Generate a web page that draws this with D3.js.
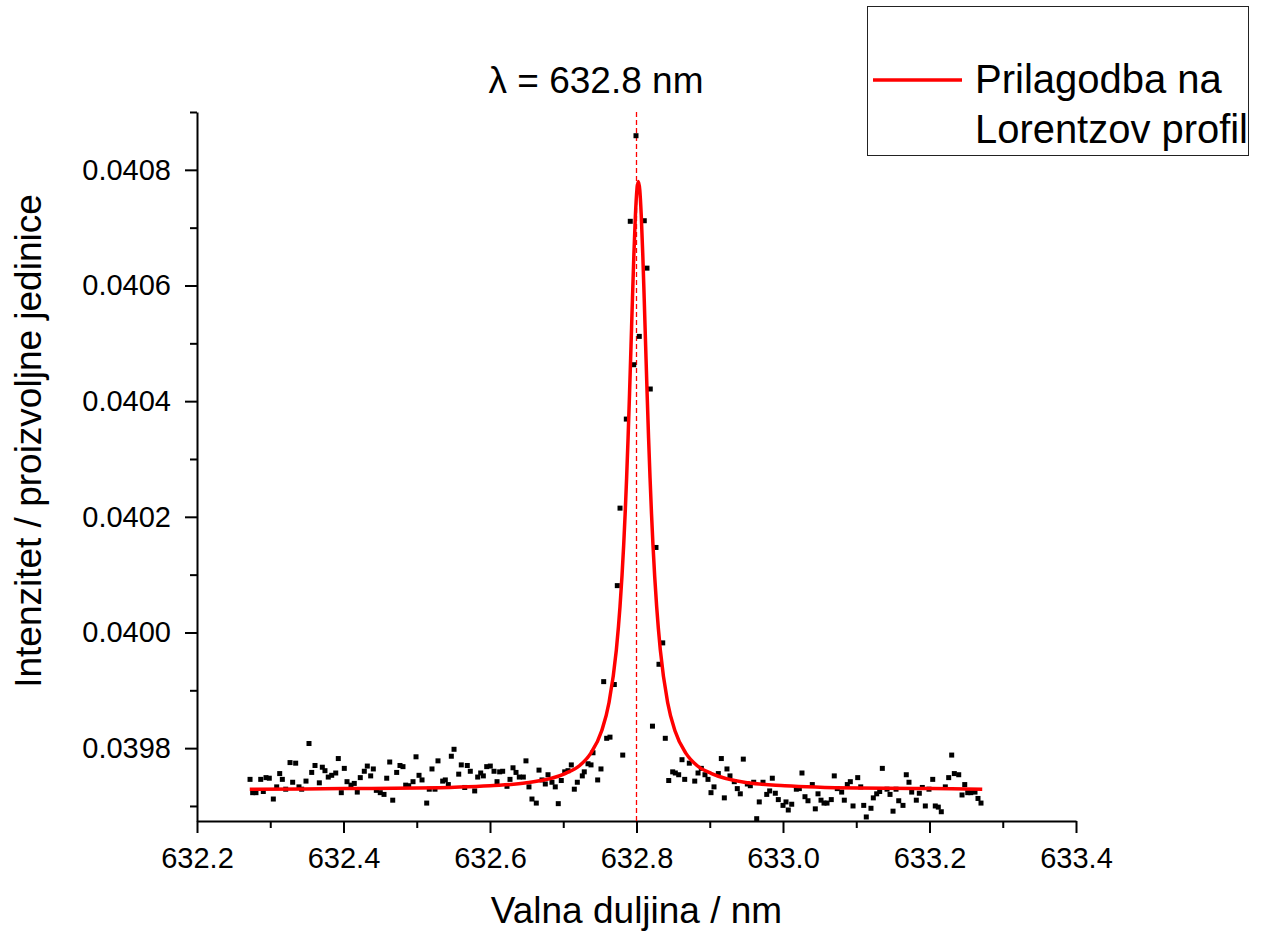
<!DOCTYPE html>
<html>
<head>
<meta charset="utf-8">
<script src="https://cdn.jsdelivr.net/npm/d3@7"></script>
<style>
  body { margin: 0; background: #fff; }
  text { font-family: "Liberation Sans", Arial, sans-serif; }
</style>
</head>
<body>
<div id="graph_div"></div>
<script>
// measured spectrum (wavelength in nm, intensity in arbitrary units)
const wavelength = [
  632.2724, 632.2760, 632.2805, 632.2870, 632.2905, 632.2942, 632.2987, 632.3042, 632.3088, 632.3129,
  632.3165, 632.3211, 632.3270, 632.3306, 632.3347, 632.3392, 632.3429, 632.3488, 632.3529, 632.3566,
  632.3611, 632.3670, 632.3711, 632.3747, 632.3792, 632.3839, 632.3894, 632.3929, 632.3970, 632.4011,
  632.4048, 632.4102, 632.4147, 632.4188, 632.4229, 632.4284, 632.4325, 632.4371, 632.4407, 632.4448,
  632.4502, 632.4553, 632.4590, 632.4631, 632.4672, 632.4726, 632.4771, 632.4812, 632.4849, 632.4890,
  632.4949, 632.4990, 632.5031, 632.5072, 632.5136, 632.5171, 632.5208, 632.5249, 632.5290,
  632.5354, 632.5390, 632.5431, 632.5472, 632.5509, 632.5573, 632.5608, 632.5655, 632.5690, 632.5731,
  632.5791, 632.5832, 632.5873, 632.5909, 632.5955, 632.6004, 632.6055, 632.6096, 632.6132, 632.6173,
  632.6232, 632.6273, 632.6314, 632.6355, 632.6400, 632.6455, 632.6491, 632.6532, 632.6573, 632.6632,
  632.6669, 632.6710, 632.6755, 632.6792, 632.6846, 632.6891, 632.6932, 632.6973, 632.7020, 632.7065,
  632.7110, 632.7151, 632.7192, 632.7260, 632.7287, 632.7338, 632.7379, 632.7406, 632.7470, 632.7515,
  632.7552, 632.7593, 632.7638, 632.7697, 632.7738, 632.7775, 632.7812, 632.7861, 632.7915, 632.7962,
  632.7993, 632.8038, 632.8106, 632.8143, 632.8188, 632.8218, 632.8266, 632.8307, 632.8358, 632.8393,
  632.8440, 632.8494, 632.8530, 632.8576, 632.8621, 632.8658, 632.8721, 632.8795, 632.8840, 632.8885,
  632.8935, 632.8976, 632.9017, 632.9058, 632.9117, 632.9158, 632.9199, 632.9235, 632.9276, 632.9335,
  632.9376, 632.9417, 632.9458, 632.9513, 632.9554, 632.9600, 632.9641, 632.9676, 632.9727, 632.9778,
  632.9818, 632.9854, 632.9895, 632.9936, 633.0000, 633.0041, 633.0072, 633.0119, 633.0182, 633.0223,
  633.0259, 633.0300, 633.0341, 633.0400, 633.0441, 633.0478, 633.0519, 633.0560, 633.0601, 633.0659,
  633.0700, 633.0741, 633.0801, 633.0837, 633.0878, 633.0919, 633.0956, 633.1020, 633.1061, 633.1102,
  633.1137, 633.1201, 633.1233, 633.1279, 633.1320, 633.1356, 633.1420, 633.1461, 633.1502, 633.1543,
  633.1580, 633.1638, 633.1683, 633.1720, 633.1757, 633.1820, 633.1861, 633.1902, 633.1943, 633.1993,
  633.2044, 633.2079, 633.2120, 633.2161, 633.2216, 633.2262, 633.2303, 633.2339, 633.2399, 633.2444,
  633.2481, 633.2522, 633.2563, 633.2621, 633.2662, 633.2703
];

const intensity = [
  0.039746, 0.039723, 0.039723, 0.039746, 0.039725, 0.039749, 0.039748, 0.039712, 0.039733, 0.039756,
  0.039746, 0.039729, 0.039775, 0.039741, 0.039774, 0.039733, 0.039729, 0.039743, 0.039808, 0.039758,
  0.039770, 0.039740, 0.039767, 0.039761, 0.039750, 0.039753, 0.039757, 0.039782, 0.039723, 0.039765,
  0.039742, 0.039736, 0.039739, 0.039724, 0.039749, 0.039760, 0.039769, 0.039752, 0.039764, 0.039727,
  0.039723, 0.039720, 0.039748, 0.039776, 0.039710, 0.039758, 0.039770, 0.039768, 0.039736, 0.039735,
  0.039742, 0.039785, 0.039753, 0.039745, 0.039705, 0.039729, 0.039764, 0.039729, 0.039778,
  0.039743, 0.039745, 0.039737, 0.039786, 0.039798, 0.039755, 0.039771, 0.039732, 0.039770, 0.039760,
  0.039726, 0.039750, 0.039757, 0.039752, 0.039768, 0.039769, 0.039760, 0.039742, 0.039759, 0.039760,
  0.039734, 0.039746, 0.039766, 0.039758, 0.039750, 0.039750, 0.039778, 0.039733, 0.039712, 0.039705,
  0.039762, 0.039745, 0.039738, 0.039754, 0.039741, 0.039733, 0.039704, 0.039744, 0.039759, 0.039761,
  0.039771, 0.039729, 0.039741, 0.039752, 0.039759, 0.039773, 0.039771, 0.039792, 0.039745, 0.039764,
  0.039915, 0.039817, 0.039819, 0.039910, 0.040081, 0.040215, 0.039788, 0.040369, 0.040711, 0.040463,
  0.040859, 0.040512, 0.040712, 0.040630, 0.040421, 0.039838, 0.040147, 0.039945, 0.039982, 0.039817,
  0.039744, 0.039759, 0.039757, 0.039754, 0.039780, 0.039746, 0.039774, 0.039743, 0.039757, 0.039765,
  0.039754, 0.039746, 0.039723, 0.039733, 0.039756, 0.039782, 0.039714, 0.039764, 0.039752, 0.039742,
  0.039730, 0.039721, 0.039781, 0.039738, 0.039735, 0.039741, 0.039678, 0.039707, 0.039741, 0.039720,
  0.039726, 0.039748, 0.039722, 0.039711, 0.039701, 0.039707, 0.039693, 0.039703, 0.039729, 0.039730,
  0.039757, 0.039716, 0.039709, 0.039737, 0.039695, 0.039721, 0.039710, 0.039705, 0.039705, 0.039711,
  0.039752, 0.039730, 0.039724, 0.039710, 0.039737, 0.039742, 0.039700, 0.039749, 0.039733, 0.039701,
  0.039681, 0.039696, 0.039714, 0.039721, 0.039725, 0.039765, 0.039729, 0.039720, 0.039691, 0.039729,
  0.039709, 0.039701, 0.039754, 0.039741, 0.039724, 0.039710, 0.039722, 0.039732, 0.039700, 0.039729,
  0.039746, 0.039700, 0.039698, 0.039690, 0.039733, 0.039749, 0.039788, 0.039756, 0.039754, 0.039719,
  0.039737, 0.039723, 0.039723, 0.039724, 0.039713, 0.039705
];

// Lorentz fit
const fitWavelength = [
  632.272, 632.4, 632.5, 632.6, 632.65, 632.7025, 632.7225, 632.7375, 632.7525, 632.7625,
  632.7725, 632.7775, 632.7825, 632.7845, 632.7865, 632.7885, 632.7905, 632.7925, 632.7945, 632.7965,
  632.7985, 632.8005, 632.8025, 632.8045, 632.8065, 632.8085, 632.8105, 632.8125, 632.8145, 632.8165,
  632.8185, 632.8205, 632.8225, 632.8275, 632.8325, 632.8425, 632.8525, 632.8675, 632.8825, 632.9025,
  632.9525, 633.0025, 633.1025, 633.2025, 633.272
];
const fitIntensity = [
  0.039729, 0.039730, 0.039731, 0.039735, 0.039740, 0.039756, 0.039770, 0.039791, 0.039830, 0.039879,
  0.039970, 0.040045, 0.040151, 0.040205, 0.040267, 0.040336, 0.040413, 0.040495, 0.040578, 0.040656,
  0.040721, 0.040765, 0.040780, 0.040765, 0.040721, 0.040656, 0.040578, 0.040495, 0.040413, 0.040336,
  0.040267, 0.040205, 0.040151, 0.040045, 0.039970, 0.039879, 0.039830, 0.039791, 0.039770, 0.039756,
  0.039740, 0.039735, 0.039731, 0.039730, 0.039729
];

const xTicks = [632.2, 632.4, 632.6, 632.8, 633.0, 633.2, 633.4];
const xMinorTicks = [632.3, 632.5, 632.7, 632.9, 633.1, 633.3];
const yTicks = [0.0398, 0.0400, 0.0402, 0.0404, 0.0406, 0.0408];
const yMinorTicks = [0.0397, 0.0399, 0.0401, 0.0403, 0.0405, 0.0407, 0.0409];
const lineCentre = 632.8;

const width = 1265;
const height = 931;
const plot = { left: 197, right: 1076, top: 112, bottom: 821 };

const x = d3.scaleLinear().domain([632.2, 633.4]).range([plot.left, plot.right]);
const y = d3.scaleLinear().domain([0.039674, 0.0409]).range([plot.bottom, plot.top]);

const svg = d3.select("#graph_div")
  .append("svg").attr("width", width).attr("height", height);

// axes
const gx = svg.append("g").attr("transform", `translate(0,${plot.bottom})`)
  .call(d3.axisBottom(x).tickValues(xTicks).tickFormat(d3.format(".1f"))
    .tickSize(12).tickSizeOuter(0).tickPadding(14));
svg.append("g").attr("transform", `translate(0,${plot.bottom})`)
  .call(d3.axisBottom(x).tickValues(xMinorTicks).tickFormat("").tickSize(7).tickSizeOuter(0))
  .select(".domain").remove();

const gy = svg.append("g").attr("transform", `translate(${plot.left},0)`)
  .call(d3.axisLeft(y).tickValues(yTicks).tickFormat(d3.format(".4f"))
    .tickSize(12).tickSizeOuter(0).tickPadding(14));
svg.append("g").attr("transform", `translate(${plot.left},0)`)
  .call(d3.axisLeft(y).tickValues(yMinorTicks).tickFormat("").tickSize(7).tickSizeOuter(0))
  .select(".domain").remove();

svg.selectAll(".tick line, .domain").attr("stroke", "#000").attr("stroke-width", 2);
svg.selectAll(".tick text").attr("font-size", 29).attr("fill", "#000");

// centre line
svg.append("line")
  .attr("x1", x(lineCentre)).attr("x2", x(lineCentre))
  .attr("y1", plot.top).attr("y2", plot.bottom)
  .attr("stroke", "red").attr("stroke-width", 1.3)
  .attr("stroke-dasharray", "5,3");

// data points
const points = wavelength.map((w, i) => ({ w: w, v: intensity[i] }));
svg.append("g").selectAll("rect")
  .data(points)
  .join("rect")
  .attr("x", d => x(d.w) - 2.5)
  .attr("y", d => y(d.v) - 2.5)
  .attr("width", 5).attr("height", 5)
  .attr("fill", "#000");

// fit curve
const fit = fitWavelength.map((w, i) => ({ w: w, v: fitIntensity[i] }));
const line = d3.line()
  .x(d => x(d.w))
  .y(d => y(d.v))
  .curve(d3.curveMonotoneX);

svg.append("path")
  .datum(fit)
  .attr("fill", "none")
  .attr("stroke", "red")
  .attr("stroke-width", 3.5)
  .attr("d", line);

// title and axis labels
svg.append("text")
  .attr("x", 596).attr("y", 93)
  .attr("text-anchor", "middle")
  .style("font-size", "37px")
  .text("λ = 632.8 nm");

svg.append("text")
  .attr("x", (plot.left + plot.right) / 2).attr("y", 923)
  .attr("text-anchor", "middle")
  .style("font-size", "37px")
  .text("Valna duljina / nm");

svg.append("text")
  .attr("transform", "translate(41,441) rotate(-90)")
  .attr("text-anchor", "middle")
  .style("font-size", "37px")
  .text("Intenzitet / proizvoljne jedinice");

// legend
const legend = svg.append("g");
legend.append("rect")
  .attr("x", 867.5).attr("y", 6.5)
  .attr("width", 381).attr("height", 149)
  .attr("fill", "#fff").attr("stroke", "#222").attr("stroke-width", 1);
legend.append("line")
  .attr("x1", 873).attr("x2", 962).attr("y1", 80).attr("y2", 80)
  .attr("stroke", "red").attr("stroke-width", 3.5);
legend.append("text")
  .attr("x", 975).attr("y", 93)
  .style("font-size", "40px")
  .text("Prilagodba na");
legend.append("text")
  .attr("x", 975).attr("y", 143)
  .style("font-size", "40px")
  .attr("textLength", 273)
  .attr("lengthAdjust", "spacingAndGlyphs")
  .text("Lorentzov profil");
</script>
</body>
</html>
